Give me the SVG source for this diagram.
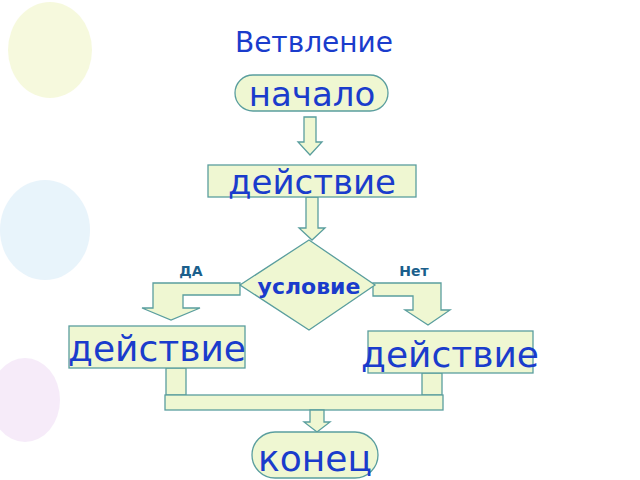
<svg xmlns="http://www.w3.org/2000/svg" width="640" height="480" viewBox="0 0 640 480">
<style>
.s{fill:#eff7d2;stroke:#5a9e9e;stroke-width:1.3}
.t{font-family:"DejaVu Sans","Noto Sans",sans-serif;fill:#1a3ccc;text-anchor:middle}
.l{font-family:"DejaVu Sans",sans-serif;font-weight:bold;font-size:14px;fill:#1b5f8c;text-anchor:middle}
</style>
<rect width="640" height="480" fill="#fff"/>
<g opacity="0.35">
<ellipse cx="50" cy="50" rx="42" ry="48" fill="#e8f0a0"/>
<ellipse cx="45" cy="230" rx="45" ry="50" fill="#bfe0f5"/>
<ellipse cx="25" cy="400" rx="35" ry="42" fill="#e6c8f0"/>
</g>
<text class="t" x="314" y="52" font-size="28">Ветвление</text>
<g id="conn">
<polygon class="s" points="304,117 316,117 316,142 322,142 310,155 298,142 304,142"/>
<polygon class="s" points="306,197 318,197 318,228 325,228 312,240 299,228 306,228"/>
<polygon class="s" points="240,283 153,283 153,308 142,308 171,320 200,308 183,308 183,295 240,295"/>
<polygon class="s" points="373,283 441,283 441,310 450,310 428,325 405,310 413,310 413,296 373,296"/>
<rect class="s" x="166" y="368" width="20" height="27"/>
<rect class="s" x="422" y="373" width="20" height="22"/>
<rect class="s" x="165" y="395" width="278" height="15"/>
<polygon class="s" points="310,410 324,410 324,422 330,422 317,432 304,422 310,422"/>
</g>
<g id="start"><rect class="s" x="235" y="75" width="153" height="36" rx="18"/><text class="t" x="312" y="106" font-size="34">начало</text></g>
<g id="act1"><rect class="s" x="208" y="165" width="208" height="32"/><text class="t" x="312" y="194" font-size="34">действие</text></g>
<g id="cond"><polygon class="s" points="309,240 375,285 309,330 240,285"/><text class="t" x="309" y="294" font-size="22" font-weight="bold">условие</text></g>
<text class="l" x="191" y="276">ДА</text>
<text class="l" x="414" y="276">Нет</text>
<g id="act2"><rect class="s" x="69" y="326" width="176" height="42"/><text class="t" x="157" y="361" font-size="36">действие</text></g>
<g id="act3"><rect class="s" x="368" y="331" width="165" height="42"/><text class="t" x="450" y="367" font-size="36">действие</text></g>
<g id="end"><rect class="s" x="252" y="432" width="126" height="46" rx="23"/><text class="t" x="315" y="471" font-size="36">конец</text></g>
</svg>
